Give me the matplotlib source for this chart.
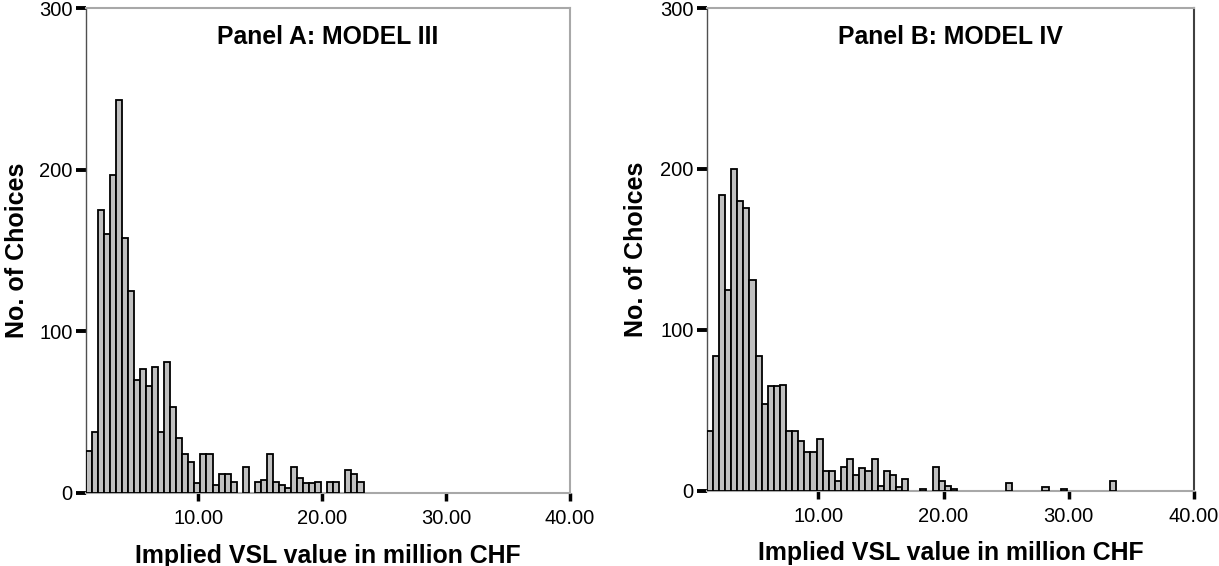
import numpy as np
import matplotlib
matplotlib.use("Agg")
import matplotlib.pyplot as plt

plt.rcParams['font.family'] = ['Liberation Sans', 'DejaVu Sans']

# ---- data (histogram counts, bin width ~0.4875 million CHF) ----
bin_width = 0.4875
a_start = 0.91
a_counts = [26, 38, 175, 160, 197, 243, 158, 125, 70, 77,
            66, 78, 38, 81, 53, 34, 24, 19, 6, 24,
            24, 5, 12, 12, 7, 0, 16, 0, 7, 8,
            24, 7, 5, 3, 16, 9, 6, 6, 7, 0,
            7, 7, 0, 14, 12, 7]
b_start = 1.086
b_counts = [37, 84, 184, 125, 200, 180, 176, 131, 84, 54,
            65, 65, 66, 37, 37, 31, 24, 24, 32, 12,
            12, 6, 15, 20, 10, 14, 12, 20, 3, 12,
            10, 2, 7, 0, 0, 1, 0, 15, 6, 3,
            1, 0, 0, 0, 0, 0, 0, 0, 0, 5,
            0, 0, 0, 0, 0, 2, 0, 0, 1, 0,
            0, 0, 0, 0, 0, 0, 6]
titles = ["Panel A: MODEL III", "Panel B: MODEL IV"]
x_ticks = [10, 20, 30, 40]
x_ticklabels = ["10.00", "20.00", "30.00", "40.00"]
y_ticks = [0, 100, 200, 300]
xlabel = "Implied VSL value in million CHF"
ylabel = "No. of Choices"

fig = plt.figure(figsize=(12.19, 5.66), dpi=100)
W, H = 1219, 566
boxes = [(85.7, 570.0, 8.0, 493.0), (706.7, 1194.0, 8.0, 490.7)]
right_colors = ["#a8a8a8", "#404040"]

for i, (start, counts) in enumerate([(a_start, a_counts), (b_start, b_counts)]):
    l, r, t, b = boxes[i]
    ax = fig.add_axes([l / W, (H - b) / H, (r - l) / W, (b - t) / H])
    counts = np.array(counts)
    lefts = start + np.arange(len(counts)) * bin_width
    m = counts > 0
    ax.bar(lefts[m], counts[m], width=bin_width, align='edge',
           color='#c0c0c0', edgecolor='black', linewidth=1.3, zorder=3)
    ax.set_xlim(start, 40)
    ax.set_ylim(0, 300)
    ax.set_xticks(x_ticks)
    ax.set_xticklabels(x_ticklabels)
    ax.set_yticks(y_ticks)
    ax.tick_params(axis='y', length=7.5, width=2.8, pad=2, labelsize=14.5, color='black')
    ax.tick_params(axis='x', length=6, width=2.5, pad=5.5, labelsize=14.5, color='black')
    ax.spines['left'].set_color('#505050')
    ax.spines['left'].set_linewidth(1.0)
    ax.spines['top'].set_color('#a8a8a8')
    ax.spines['top'].set_linewidth(1.5)
    ax.spines['bottom'].set_color('#a8a8a8')
    ax.spines['bottom'].set_linewidth(1.5)
    ax.spines['right'].set_color(right_colors[i])
    ax.spines['right'].set_linewidth(1.5)
    ax.text(0.5, 0.94, titles[i], transform=ax.transAxes, ha='center', va='center',
            fontsize=17.8, fontweight='bold')
    ax.text(0.5, -0.129, xlabel, transform=ax.transAxes, ha='center', va='center',
            fontsize=17.9, fontweight='bold')
    ax.text(-0.142 if i == 0 else -0.145, 0.5, ylabel, transform=ax.transAxes,
            ha='center', va='center', rotation=90, fontsize=18, fontweight='bold')

fig.savefig("out.png", dpi=100)
